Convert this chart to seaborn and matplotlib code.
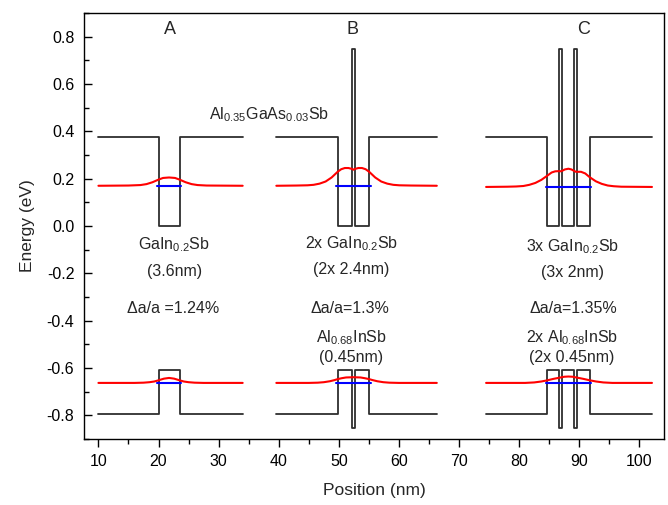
import matplotlib
matplotlib.use("Agg")
import matplotlib.pyplot as plt
import seaborn as sns
from matplotlib.ticker import MultipleLocator, FormatStrFormatter

sns.set_style("ticks")
plt.rcParams['font.family'] = ['Liberation Sans', 'DejaVu Sans']
plt.rcParams['mathtext.default'] = 'regular'

# band edge profiles: breakpoints (nm) and energy from each breakpoint on (eV)
cb_a_x = [10, 20, 23.5, 34]
cb_a_e = [0.375, 0.0, 0.375, 0.375]
vb_a_e = [-0.795, -0.61, -0.795, -0.795]

cb_b_x = [39.6, 49.8, 52.2, 52.65, 55.05, 66.3]
cb_b_e = [0.375, 0.0, 0.75, 0.0, 0.375, 0.375]
vb_b_e = [-0.795, -0.61, -0.855, -0.61, -0.795, -0.795]

cb_c_x = [74.5, 84.7, 86.7, 87.15, 89.2, 89.65, 91.75, 102.1]
cb_c_e = [0.375, 0.0, 0.75, 0.0, 0.75, 0.0, 0.375, 0.375]
vb_c_e = [-0.795, -0.61, -0.855, -0.61, -0.855, -0.61, -0.795, -0.795]

# confined levels (blue)
level_start = [19.8, 49.6, 84.5]
level_end = [23.7, 55.3, 92.0]
cb_levels = [0.17, 0.17, 0.165]
vb_levels = [-0.663, -0.663, -0.662]

# wavefunctions (red)
wf_cb_a_x = [10, 15, 17, 18, 19, 20, 20.75, 21.75, 22.75, 23.5, 24.5, 25.5, 26.5, 28, 34]
wf_cb_a_y = [0.170, 0.171, 0.173, 0.177, 0.185, 0.196, 0.203, 0.205, 0.203, 0.196, 0.185,
             0.177, 0.173, 0.171, 0.170]
wf_cb_b_x = [39.6, 43, 44.8, 45.8, 46.8, 47.8, 48.8, 49.8, 50.4, 51.0, 51.6, 52.2, 52.425,
             52.65, 53.25, 53.85, 54.45, 55.05, 56.05, 57.05, 58.05, 59.05, 60.05, 62, 66.3]
wf_cb_b_y = [0.170, 0.171, 0.172, 0.174, 0.179, 0.188, 0.205, 0.229, 0.240, 0.245, 0.245,
             0.241, 0.238, 0.241, 0.245, 0.245, 0.240, 0.229, 0.205, 0.188, 0.179, 0.174,
             0.172, 0.171, 0.170]
wf_cb_c_x = [74.5, 78, 79.5, 80.7, 81.7, 82.7, 83.7, 84.7, 85.4, 86.0, 86.7, 86.9, 87.15,
             87.6, 88.2, 88.7, 89.2, 89.45, 89.7, 90.3, 91.0, 91.75, 92.75, 93.75, 94.75,
             95.75, 97, 102.1]
wf_cb_c_y = [0.165, 0.166, 0.167, 0.169, 0.174, 0.182, 0.195, 0.213, 0.226, 0.231, 0.232,
             0.231, 0.233, 0.239, 0.242, 0.239, 0.232, 0.229, 0.229, 0.229, 0.222, 0.206,
             0.189, 0.178, 0.171, 0.168, 0.166, 0.165]

wf_vb_a_x = [10, 16, 17.5, 18.5, 19.3, 20, 20.9, 21.75, 22.6, 23.5, 24.2, 25, 26, 27.5, 34]
wf_vb_a_y = [-0.663, -0.663, -0.662, -0.660, -0.657, -0.652, -0.645, -0.642, -0.645, -0.652,
             -0.657, -0.660, -0.662, -0.663, -0.663]
wf_vb_b_x = [39.6, 45, 46.5, 47.5, 48.5, 49.3, 49.8, 50.5, 51.2, 52.4, 53.6, 54.3, 55.05,
             55.6, 56.4, 57.4, 58.4, 60, 66.3]
wf_vb_b_y = [-0.663, -0.663, -0.662, -0.660, -0.656, -0.651, -0.647, -0.643, -0.640, -0.639,
             -0.640, -0.643, -0.647, -0.651, -0.656, -0.660, -0.662, -0.663, -0.663]
wf_vb_c_x = [74.5, 81, 82.5, 83.7, 84.7, 85.7, 86.7, 87.5, 88.2, 88.9, 89.7, 90.7, 91.75,
             92.8, 94, 95.5, 102.1]
wf_vb_c_y = [-0.663, -0.663, -0.661, -0.657, -0.652, -0.646, -0.641, -0.637, -0.636, -0.637,
             -0.641, -0.646, -0.652, -0.657, -0.661, -0.663, -0.663]

fig = plt.figure(figsize=(6.68, 5.05), dpi=100)
ax = fig.add_axes([84 / 668, 1 - 439 / 505, 580 / 668, 426 / 505])


def line(x, y, color, lw, steps=False):
    sns.lineplot(x=x, y=y, color=color, lw=lw, ax=ax, estimator=None, sort=False,
                 drawstyle='steps-post' if steps else 'default')


# band edges
band_color = '#2e2e2e'
for bx, ce, ve in [(cb_a_x, cb_a_e, vb_a_e), (cb_b_x, cb_b_e, vb_b_e), (cb_c_x, cb_c_e, vb_c_e)]:
    line(bx, ce, band_color, 1.3, steps=True)
    line(bx, ve, band_color, 1.3, steps=True)

# wavefunctions
for wx, wy in [(wf_cb_a_x, wf_cb_a_y), (wf_cb_b_x, wf_cb_b_y), (wf_cb_c_x, wf_cb_c_y),
               (wf_vb_a_x, wf_vb_a_y), (wf_vb_b_x, wf_vb_b_y), (wf_vb_c_x, wf_vb_c_y)]:
    line(wx, wy, 'red', 1.5)

# levels
for x0, x1, ec, ev in zip(level_start, level_end, cb_levels, vb_levels):
    line([x0, x1], [ec, ec], 'blue', 1.5)
    line([x0, x1], [ev, ev], 'blue', 1.5)

# labels
fs = 11.5
ax.text(21.95, 0.83, "A", ha='center', va='center', fontsize=13)
ax.text(52.3, 0.83, "B", ha='center', va='center', fontsize=13)
ax.text(90.8, 0.83, "C", ha='center', va='center', fontsize=13)
ax.text(38.4, 0.47, "Al$_{0.35}$GaAs$_{0.03}$Sb", ha='center', va='center', fontsize=fs)

ax.text(22.6, -0.08, "GaIn$_{0.2}$Sb", ha='center', va='center', fontsize=fs)
ax.text(22.6, -0.193, "(3.6nm)", ha='center', va='center', fontsize=fs)
ax.text(22.4, -0.35, "\u0394a/a =1.24%", ha='center', va='center', fontsize=fs)

ax.text(52.1, -0.075, "2x GaIn$_{0.2}$Sb", ha='center', va='center', fontsize=fs)
ax.text(52.1, -0.185, "(2x 2.4nm)", ha='center', va='center', fontsize=fs)
ax.text(51.9, -0.35, "\u0394a/a=1.3%", ha='center', va='center', fontsize=fs)
ax.text(52.1, -0.47, "Al$_{0.68}$InSb", ha='center', va='center', fontsize=fs)
ax.text(52.1, -0.557, "(0.45nm)", ha='center', va='center', fontsize=fs)

ax.text(88.9, -0.088, "3x GaIn$_{0.2}$Sb", ha='center', va='center', fontsize=fs)
ax.text(88.9, -0.195, "(3x 2nm)", ha='center', va='center', fontsize=fs)
ax.text(89.1, -0.35, "\u0394a/a=1.35%", ha='center', va='center', fontsize=fs)
ax.text(88.8, -0.47, "2x Al$_{0.68}$InSb", ha='center', va='center', fontsize=fs)
ax.text(88.8, -0.557, "(2x 0.45nm)", ha='center', va='center', fontsize=fs)

ax.set_xlim(7.6, 104.1)
ax.set_ylim(-0.9, 0.9)
ax.xaxis.set_major_locator(MultipleLocator(10))
ax.xaxis.set_minor_locator(MultipleLocator(5))
ax.yaxis.set_major_locator(MultipleLocator(0.2))
ax.yaxis.set_minor_locator(MultipleLocator(0.1))
ax.yaxis.set_major_formatter(FormatStrFormatter('%.1f'))
ax.tick_params(axis='x', which='both', direction='out', labelsize=11.5, colors='black', pad=5)
ax.tick_params(axis='y', which='both', direction='in', labelsize=11.5, colors='black', pad=7)
ax.tick_params(which='major', length=6, width=1)
ax.tick_params(which='minor', length=3.5, width=1)
for s in ax.spines.values():
    s.set_color('black')
    s.set_linewidth(1)

ax.set_xlabel("Position (nm)", fontsize=12.5, labelpad=10)
ax.set_ylabel("Energy (eV)", fontsize=12.5, labelpad=8)

plt.savefig("out.png", dpi=100)
